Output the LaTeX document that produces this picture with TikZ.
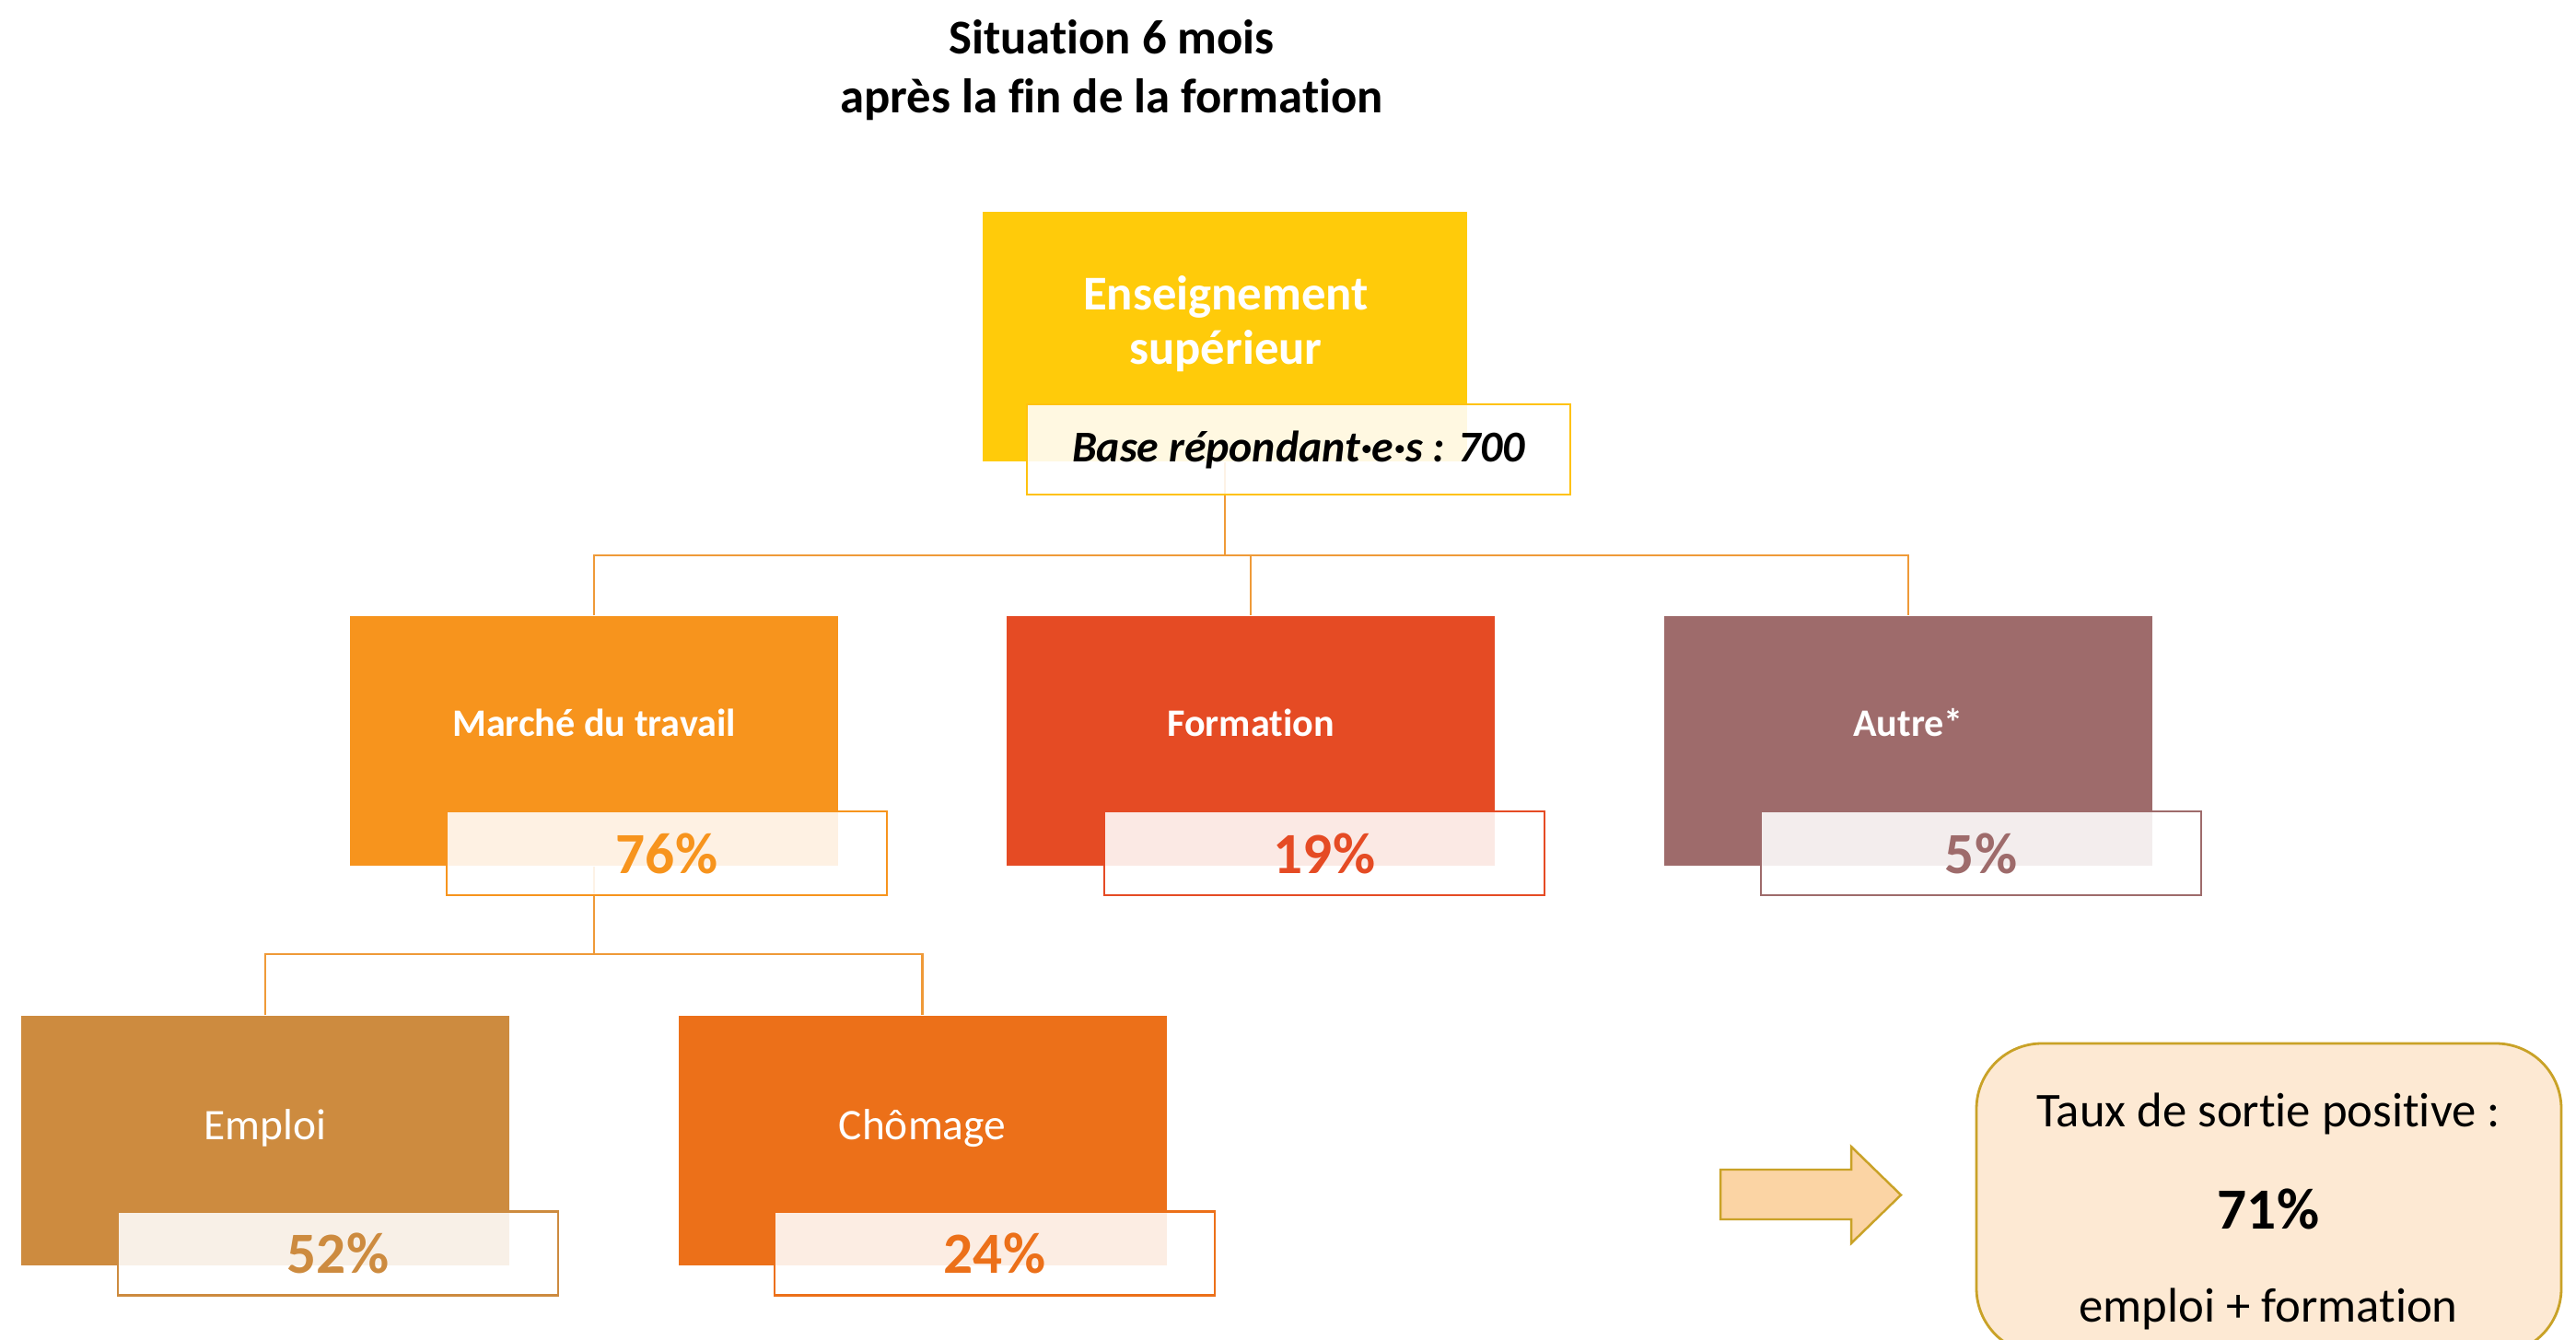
\documentclass[tikz,border=0pt]{standalone}
\usepackage{fontspec}
\setmainfont{Carlito}[Ligatures={NoCommon}]
\usetikzlibrary{backgrounds}

\definecolor{supyellow}{HTML}{FFCB0A}
\definecolor{baseedge}{HTML}{FFC20E}
\definecolor{marcheorange}{HTML}{F7941D}
\definecolor{formred}{HTML}{E54B24}
\definecolor{autremauve}{HTML}{9E6B6B}
\definecolor{emploiocre}{HTML}{CD8B3F}
\definecolor{chomorange}{HTML}{EC7019}
\definecolor{linkorange}{HTML}{EF9A38}
\definecolor{arrowfill}{HTML}{FBD4A4}
\definecolor{goldedge}{HTML}{C9A227}
\definecolor{sortiefill}{HTML}{FDE9D3}

\begin{document}
\begin{tikzpicture}[
		catbox/.style={rectangle, minimum width=5.3cm, minimum height=2.71cm, inner sep=0pt},
		cattext/.style={text=white, inner sep=0pt, font=\fontsize{12}{14}\selectfont\bfseries},
		subtext/.style={text=white, inner sep=0pt, font=\fontsize{13.5}{16}\selectfont},
		pctbox/.style={rectangle, draw=#1, line width=0.7pt, fill=white, fill opacity=0.88, text opacity=1, text=#1,
			minimum width=4.78cm, minimum height=0.91cm, inner sep=0pt, font=\fontsize{18}{20}\selectfont\bfseries},
		link/.style={draw=linkorange, line width=0.6pt}
	]
	\useasboundingbox (0,0) rectangle (27.97,-14.55);

	\node[align=center, inner sep=0pt, font=\fontsize{15}{18.2}\selectfont\bfseries] (title) at (12.07,-0.76) {Situation 6 mois\\après la fin de la formation};

	% top level
	\node[rectangle, fill=supyellow, minimum width=5.26cm, minimum height=2.71cm, inner sep=0pt] (sup) at (13.30,-3.655) {};
	\node[align=center, text=white, inner sep=0pt, font=\fontsize{15}{16.8}\selectfont\bfseries] (suptext) at (13.31,-3.52) {Enseignement\\supérieur};
	\node[rectangle, draw=baseedge, line width=0.7pt, fill=white, fill opacity=0.88, text opacity=1,
		minimum width=5.90cm, minimum height=0.98cm, inner sep=0pt, font=\fontsize{13.6}{16}\selectfont\bfseries\itshape] (base) at (14.10,-4.88) {Base répondant·e·s : 700};

	% second level
	\node[catbox, fill=marcheorange] (marche) at (6.45,-8.045) {};
	\node[cattext] (marchetext) at (6.45,-7.85) {Marché du travail};
	\node[pctbox=marcheorange] (marchepct) at (7.24,-9.265) {76\%};

	\node[catbox, fill=formred] (formation) at (13.58,-8.045) {};
	\node[cattext] (formationtext) at (13.58,-7.85) {Formation};
	\node[pctbox=formred] (formationpct) at (14.38,-9.265) {19\%};

	\node[catbox, fill=autremauve] (autre) at (20.72,-8.045) {};
	\node[cattext] (autretext) at (20.72,-7.85) {Autre*};
	\node[pctbox=autremauve] (autrepct) at (21.51,-9.265) {5\%};

	% third level
	\node[catbox, fill=emploiocre] (emploi) at (2.88,-12.385) {};
	\node[subtext] (emploitext) at (2.88,-12.25) {Emploi};
	\node[pctbox=emploiocre] (emploipct) at (3.67,-13.61) {52\%};

	\node[catbox, fill=chomorange] (chomage) at (10.015,-12.385) {};
	\node[subtext] (chomagetext) at (10.015,-12.25) {Chômage};
	\node[pctbox=chomorange] (chomagepct) at (10.80,-13.61) {24\%};

	% connectors
	\begin{scope}[on background layer]
		\coordinate (barone) at (0,-6.03);
		\coordinate (bartwo) at (0,-10.36);
		\draw[link] (sup.south) -- (sup.south |- barone);
		\draw[link] (marche.north) |- (sup.south |- barone) -| (autre.north);
		\draw[link] (formation.north) -- (formation.north |- barone);
		\draw[link] (marche.south) -- (marche.south |- bartwo);
		\draw[link] (emploi.north) |- (marche.south |- bartwo) -| (chomage.north);
	\end{scope}

	% summary
	\draw[fill=arrowfill, draw=goldedge, line width=0.7pt] (18.68,-12.70) -- (20.10,-12.70) -- (20.10,-12.45) -- (20.64,-12.975) -- (20.10,-13.50) -- (20.10,-13.24) -- (18.68,-13.24) -- cycle;
	\begin{scope}
		\clip (0,0) rectangle (27.97,-14.55);
		\node[rectangle, rounded corners=0.71cm, draw=goldedge, line width=0.8pt, fill=sortiefill,
			minimum width=6.35cm, minimum height=3.37cm, inner sep=0pt] (sortie) at (24.635,-13.015) {};
	\end{scope}
	\node[inner sep=0pt, font=\fontsize{15}{18}\selectfont] (sortietitle) at (24.63,-12.09) {Taux de sortie positive :};
	\node[inner sep=0pt, font=\fontsize{18}{20}\selectfont\bfseries] (sortieval) at (24.63,-13.13) {71\%};
	\node[inner sep=0pt, font=\fontsize{15}{18}\selectfont] (sortienote) at (24.63,-14.21) {emploi + formation};
\end{tikzpicture}
\end{document}
